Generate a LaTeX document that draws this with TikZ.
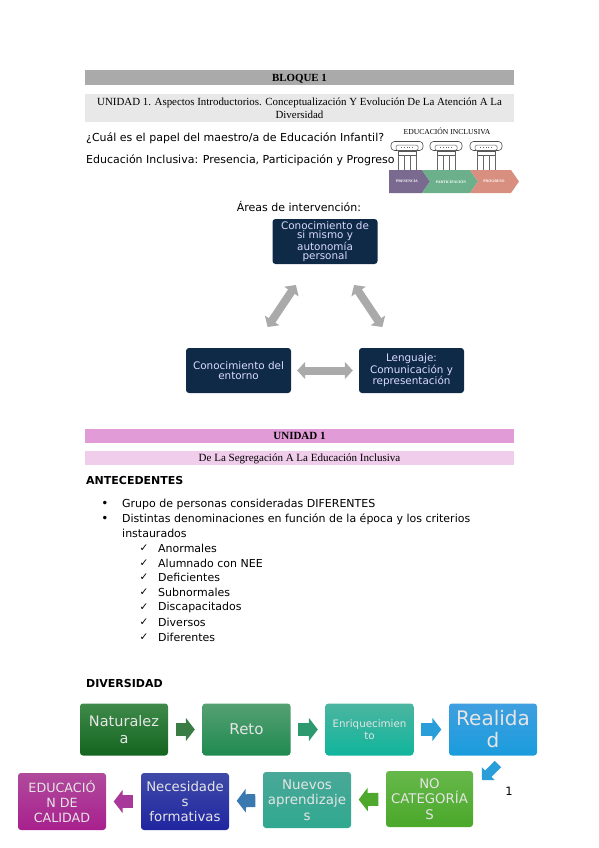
\documentclass[tikz,border=0pt]{standalone}
\usepackage{fontspec}
\setmainfont{DejaVu Sans}
\newfontfamily\barfont{Liberation Serif}
\usetikzlibrary{arrows.meta}
\definecolor{bargrey}{RGB}{170,170,170}
\definecolor{barlight}{RGB}{232,232,232}
\definecolor{barpink}{RGB}{225,155,215}
\definecolor{barrose}{RGB}{240,205,235}
\definecolor{navy}{RGB}{15,42,71}
\definecolor{arrowgrey}{RGB}{170,170,170}
\definecolor{chevpurple}{RGB}{122,106,144}
\definecolor{chevgreen}{RGB}{107,176,138}
\definecolor{chevsalmon}{RGB}{217,143,128}
\definecolor{natt}{RGB}{63,138,74}
\definecolor{natb}{RGB}{19,100,31}
\definecolor{retot}{RGB}{85,160,114}
\definecolor{retob}{RGB}{31,138,80}
\definecolor{enrt}{RGB}{76,181,160}
\definecolor{enrb}{RGB}{16,181,156}
\definecolor{realt}{RGB}{63,159,224}
\definecolor{realb}{RGB}{26,156,220}
\definecolor{catt}{RGB}{102,184,74}
\definecolor{catb}{RGB}{74,168,42}
\definecolor{nuet}{RGB}{74,168,152}
\definecolor{nueb}{RGB}{48,168,144}
\definecolor{nect}{RGB}{63,74,168}
\definecolor{necb}{RGB}{32,37,160}
\definecolor{calt}{RGB}{176,74,156}
\definecolor{calb}{RGB}{168,32,142}
\definecolor{arrnat}{RGB}{58,125,68}
\definecolor{arrreto}{RGB}{44,154,110}
\definecolor{arrblue}{RGB}{42,158,217}
\definecolor{arrcat}{RGB}{79,168,46}
\definecolor{arrnue}{RGB}{58,120,176}
\definecolor{arrnec}{RGB}{168,56,154}
\newcommand{\fs}[1]{\fontsize{#1}{#1}\selectfont}
\tikzset{
  bar/.style={minimum width=429,inner sep=0,align=center,text=black,text depth=0pt},
  bodytext/.style={anchor=west,inner sep=0,font=\fs{11}},
  navybox/.style={fill=navy,rounded corners=3pt,minimum width=105,minimum height=45,inner sep=0,
    align=center,text=white!85!blue,font=\fontsize{10.4}{9.6}\selectfont},
  flowbox/.style 2 args={top color=#1,bottom color=#2,rounded corners=3pt,minimum width=88,minimum height=52,
    inner sep=0,align=center,text=white!90!black},
  blockarrow/.style={line width=13pt,-{Triangle[width=23pt,length=9pt]},shorten <=7.5pt,shorten >=7.5pt},
  areaarrow/.style={arrowgrey,line width=8pt,{Triangle[width=17pt,length=8pt]}-{Triangle[width=17pt,length=8pt]}},
  chevlabel/.style={inner sep=0,text=white,font=\barfont\bfseries\fs{3.8}},
}
\begin{document}
\begin{tikzpicture}[x=1pt,y=-1pt]
    \useasboundingbox (0,0) rectangle (599,848);
    % title bars
    \node[bar,fill=bargrey,minimum height=15,font=\barfont\bfseries\fs{10.9}] (bloque) at (299.5,77.5) {BLOQUE 1};
    \node[bar,fill=barlight,minimum height=28,font=\barfont\fs{10.9}] (unidadtitle) at (299.5,108)
      {UNIDAD 1. Aspectos Introductorios. Conceptualización Y Evolución De La Atención A La\\[2pt]Diversidad};
    \node[bodytext] (papel) at (86,138) {¿Cuál es el papel del maestro/a de Educación Infantil?};
    \node[bodytext] (inclusiva) at (86,160.5) {Educación Inclusiva: Presencia, Participación y Progreso};
    % columns
    \node[inner sep=0,font=\barfont\fs{7.6}] (pilartitle) at (447,131) {EDUCACIÓN INCLUSIVA};
    \foreach \cx in {407,446,486} {
      \draw[black!65,line width=0.5pt] (\cx-9,151) rectangle (\cx+9,155);
      \foreach \d in {-9,-3,3,9}
        \draw[black!60,line width=0.6pt] (\cx+\d,155)--(\cx+\d,170);
      \draw[black!70,line width=0.6pt,rounded corners=3.5pt,fill=white] (\cx-16,141.5) rectangle (\cx+16,150.5);
      \draw[black!60,line width=0.5pt,rounded corners=1.5pt] (\cx-11,145) rectangle (\cx+11,150.5);
      \draw[black!60,line width=0.8pt,dotted] (\cx-6,147.5)--(\cx+6,147.5);
    }
    % chevrons
    \fill[chevpurple] (389,170)--(422,170)--(430,181.5)--(422,193)--(389,193)--cycle;
    \fill[chevgreen] (422,170)--(470,170)--(478,181.5)--(470,193)--(422,193)--(430,181.5)--cycle;
    \fill[chevsalmon] (470,170)--(511,170)--(519,181.5)--(511,193)--(470,193)--(478,181.5)--cycle;
    \node[chevlabel] (presencia) at (407,181.5) {PRESENCIA};
    \node[chevlabel] (participacion) at (451,181.5) {PARTICIPACIÓN};
    \node[chevlabel] (progreso) at (494,181.5) {PROGRESO};
    % areas
    \node[inner sep=0,font=\fs{11}] (areas) at (299,206.5) {Áreas de intervención:};
    \node[navybox] (sabermismo) at (325,241.5) {Conocimiento de\\si mismo y\\autonomía\\personal};
    \node[navybox] (entorno) at (238.5,370.5) {Conocimiento del\\entorno};
    \node[navybox] (lenguaje) at (411.5,370.5) {Lenguaje:\\Comunicación y\\representación};
    \foreach \a/\b/\s in {sabermismo/entorno/25,sabermismo/lenguaje/25,entorno/lenguaje/6}
      \draw[areaarrow,shorten <=\s pt,shorten >=\s pt] (\a)--(\b);
    % unit 1
    \node[bar,fill=barpink,minimum height=14,font=\barfont\bfseries\fs{11}] (unidad) at (299.5,435.5) {UNIDAD 1};
    \node[bar,fill=barrose,minimum height=14,font=\barfont\fs{11}] (segregacion) at (299.5,458) {De La Segregación A La Educación Inclusiva};
    \node[bodytext,font=\bfseries\fs{11}] (antecedentes) at (86,480.5) {ANTECEDENTES};
    \node[inner sep=0,font=\fs{12}] (bulleta) at (105,504) {•};
    \node[bodytext] (grupo) at (122,504) {Grupo de personas consideradas DIFERENTES};
    \node[inner sep=0,font=\fs{12}] (bulletb) at (105,519.5) {•};
    \node[bodytext] (distintas) at (122,519.5) {Distintas denominaciones en función de la época y los criterios};
    \node[bodytext] (instaurados) at (122,533.5) {instaurados};
    \foreach \i/\y/\t in {1/548/Anormales,2/563/Alumnado con NEE,3/577.5/Deficientes,4/592.5/Subnormales,5/607.5/Discapacitados,6/622.5/Diversos,7/637/Diferentes} {
      \node[inner sep=0,font=\fs{10.5}] (check\i) at (144,\y) {✓};
      \node[bodytext] (name\i) at (158,\y) {\t};
    }
    % diversity flow
    \node[bodytext,font=\bfseries\fs{11}] (diversidad) at (86,683) {DIVERSIDAD};
    \node[flowbox={natt}{natb},font=\fs{14.5}] (naturaleza) at (124,729.5) {Naturalez\\[2pt]a};
    \node[flowbox={retot}{retob},font=\fs{15}] (reto) at (246.5,729.5) {Reto};
    \node[flowbox={enrt}{enrb},font=\fs{10.3}] (enriq) at (369.5,729.5) {Enriquecimien\\[2pt]to};
    \node[flowbox={realt}{realb},font=\fs{20}] (realidad) at (493,729.5) {Realida\\[2pt]d};
    \node[flowbox={catt}{catb},minimum width=87,minimum height=56,font=\fs{13.3}] (categorias) at (429.5,799) {NO\\[2pt]CATEGORÍA\\[2pt]S};
    \node[flowbox={nuet}{nueb},minimum height=56,font=\fs{13.4}] (nuevos) at (307,800) {Nuevos\\[2pt]aprendizaje\\[2pt]s};
    \node[flowbox={nect}{necb},minimum height=57,font=\fs{13.3}] (necesidades) at (185,801.5) {Necesidade\\[2pt]s\\[2pt]formativas};
    \node[flowbox={calt}{calb},minimum height=57,font=\fs{12.7}] (calidad) at (62,801.5) {EDUCACIÓ\\[2pt]N DE\\[2pt]CALIDAD};
    \foreach \a/\b/\c in {naturaleza/reto/arrnat,reto/enriq/arrreto,enriq/realidad/arrblue,categorias/nuevos/arrcat,nuevos/necesidades/arrnue,necesidades/calidad/arrnec}
      \draw[blockarrow,\c] (\a)--(\b);
    \coordinate (realidadout) at (498,764);
    \coordinate (categoriasin) at (482,780);
    \draw[arrblue,line width=9pt,-{Triangle[width=18pt,length=9pt]}] (realidadout)--(categoriasin);
    \node[inner sep=0,font=\fs{11.5}] (pagenum) at (509,791) {1};
\end{tikzpicture}
\end{document}
